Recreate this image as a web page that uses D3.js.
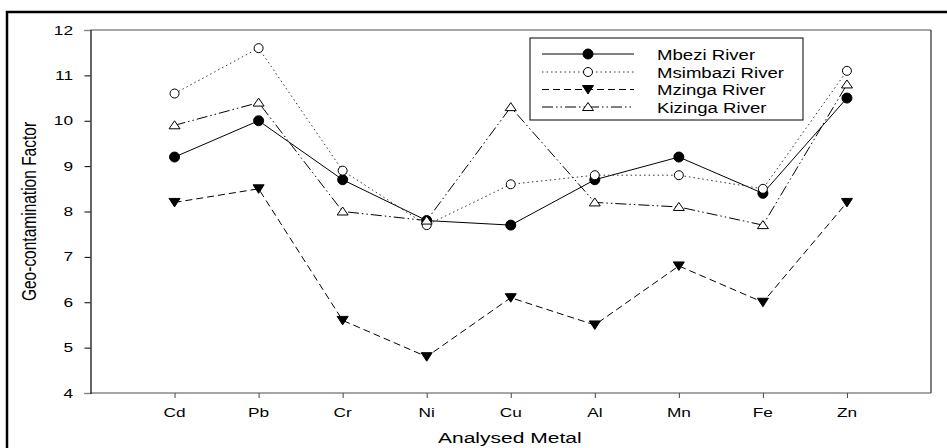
<!DOCTYPE html>
<html>
<head>
<meta charset="utf-8">
<script src="https://cdn.jsdelivr.net/npm/d3@7"></script>
<style>
  html, body { margin: 0; padding: 0; background: #fff; }
  svg { display: block; }
  text { font-family: "Liberation Sans", Arial, sans-serif; fill: #000; }
</style>
</head>
<body>
<svg id="chart" width="947" height="448"></svg>
<script>
const metals = ["Cd", "Pb", "Cr", "Ni", "Cu", "Al", "Mn", "Fe", "Zn"];
const mbezi    = [9.2, 10.0, 8.7, 7.8, 7.7, 8.7, 9.2, 8.4, 10.5];
const msimbazi = [10.6, 11.6, 8.9, 7.7, 8.6, 8.8, 8.8, 8.5, 11.1];
const mzinga   = [8.2, 8.5, 5.6, 4.8, 6.1, 5.5, 6.8, 6.0, 8.2];
const kizinga  = [9.9, 10.4, 8.0, 7.8, 10.3, 8.2, 8.1, 7.7, 10.8];
const seriesNames = ["Mbezi River", "Msimbazi River", "Mzinga River", "Kizinga River"];
const yTicks = [4, 5, 6, 7, 8, 9, 10, 11, 12];
const xTitle = "Analysed Metal";
const yTitle = "Geo-contamination Factor";

const styles = [
  { dash: null,               marker: "circle",  fill: "#000" },
  { dash: "1.5,3",            marker: "circle",  fill: "#fff" },
  { dash: "7,4",              marker: "down",    fill: "#000" },
  { dash: "11,3,1.5,3,1.5,3", marker: "up",      fill: "#fff" }
];
const seriesData = [mbezi, msimbazi, mzinga, kizinga];

const svg = d3.select("#chart");
const L = 90.5, R = 931, T = 30, B = 393;

const x = d3.scaleLinear().domain([0, 10]).range([L, R]);
const y = d3.scaleLinear().domain([4, 12]).range([B, T]);

// outer border (right and bottom edges fall outside the picture)
svg.append("rect").attr("x", 7).attr("y", 12).attr("width", 960).attr("height", 460)
  .attr("fill", "none").attr("stroke", "#000").attr("stroke-width", 2.5);

// stretched text helper
function stext(g, tx, ty, str, size, sx, anchor) {
  return g.append("text")
    .attr("transform", `translate(${tx},${ty}) scale(${sx},1)`)
    .attr("text-anchor", anchor || "middle")
    .style("font-size", size + "px")
    .text(str);
}

// plot frame (top, bottom, right gray)
svg.append("line").attr("x1", L).attr("x2", R).attr("y1", T).attr("y2", T).attr("stroke", "#888").attr("stroke-width", 1.5);
svg.append("line").attr("x1", L).attr("x2", R).attr("y1", B).attr("y2", B).attr("stroke", "#888").attr("stroke-width", 1.5);
svg.append("line").attr("x1", R).attr("x2", R).attr("y1", T).attr("y2", B).attr("stroke", "#555").attr("stroke-width", 1.5);

// y axis
const yAxis = d3.axisLeft(y).tickValues(yTicks).tickSize(6).tickFormat("");
const gy = svg.append("g").attr("transform", `translate(${L},0)`).call(yAxis);
gy.select(".domain").attr("stroke", "#000").attr("stroke-width", 1.2);
gy.selectAll(".tick line").attr("stroke", "#000");
gy.selectAll(".tick").filter(d => d === 12 || d === 4).select("line").attr("stroke", "#888").attr("stroke-width", 1.5);
yTicks.forEach(v => {
  stext(svg, 73, y(v) + 4.5, String(v), 12.5, 1.38, "end");
});

// x axis
const xAxis = d3.axisBottom(x).tickValues(d3.range(1, metals.length + 1)).tickSize(5).tickFormat("");
const gx = svg.append("g").attr("transform", `translate(0,${B})`).call(xAxis);
gx.select(".domain").remove();
gx.selectAll(".tick line").attr("stroke", "#444");
metals.forEach((m, i) => {
  stext(svg, x(i + 1), 417, m, 12.5, 1.38, "middle");
});

// titles
stext(svg, (L + R) / 2 - 1, 443, xTitle, 14.5, 1.45, "middle");
svg.append("text")
  .attr("transform", `translate(36,${(T + B) / 2}) rotate(-90) scale(1,1.3)`)
  .attr("text-anchor", "middle")
  .style("font-size", "15.5px")
  .text(yTitle);

// markers
function drawMarker(g, kind, cx, cy, fill) {
  if (kind === "circle") {
    g.append("circle").attr("cx", cx).attr("cy", cy).attr("r", fill === "#000" ? 5 : 4.5)
      .attr("fill", fill).attr("stroke", "#000").attr("stroke-width", 1);
  } else if (kind === "up") {
    g.append("path").attr("d", `M${cx},${cy - 4.5}L${cx + 5.5},${cy + 3.5}L${cx - 5.5},${cy + 3.5}Z`)
      .attr("fill", fill).attr("stroke", "#000").attr("stroke-width", 1);
  } else {
    g.append("path").attr("d", `M${cx - 5.5},${cy - 4}L${cx + 5.5},${cy - 4}L${cx},${cy + 4.5}Z`)
      .attr("fill", fill).attr("stroke", "#000").attr("stroke-width", 1);
  }
}

const line = d3.line().x((d, i) => x(i + 1)).y(d => y(d));
seriesData.forEach((vals, s) => {
  const g = svg.append("g");
  g.append("path").datum(vals).attr("d", line).attr("fill", "none")
    .attr("stroke", s === 1 ? "#333" : "#000").attr("stroke-width", 1)
    .attr("stroke-dasharray", styles[s].dash);
  vals.forEach((v, i) => drawMarker(g, styles[s].marker, x(i + 1), y(v), styles[s].fill));
});

// legend
const lg = svg.append("g");
lg.append("rect").attr("x", 530).attr("y", 38).attr("width", 273).attr("height", 82)
  .attr("fill", "#fff").attr("stroke", "#000").attr("stroke-width", 1);
const rowY = [54, 72, 89.5, 107];
seriesNames.forEach((n, s) => {
  const ry = rowY[s];
  lg.append("line").attr("x1", 542).attr("x2", 634).attr("y1", ry).attr("y2", ry)
    .attr("stroke", s === 1 ? "#333" : "#000").attr("stroke-width", 1)
    .attr("stroke-dasharray", styles[s].dash);
  drawMarker(lg, styles[s].marker, 588, ry, styles[s].fill);
  stext(lg, 657, ry + 5.5, n, 15, 1.24, "start");
});
</script>
</body>
</html>
